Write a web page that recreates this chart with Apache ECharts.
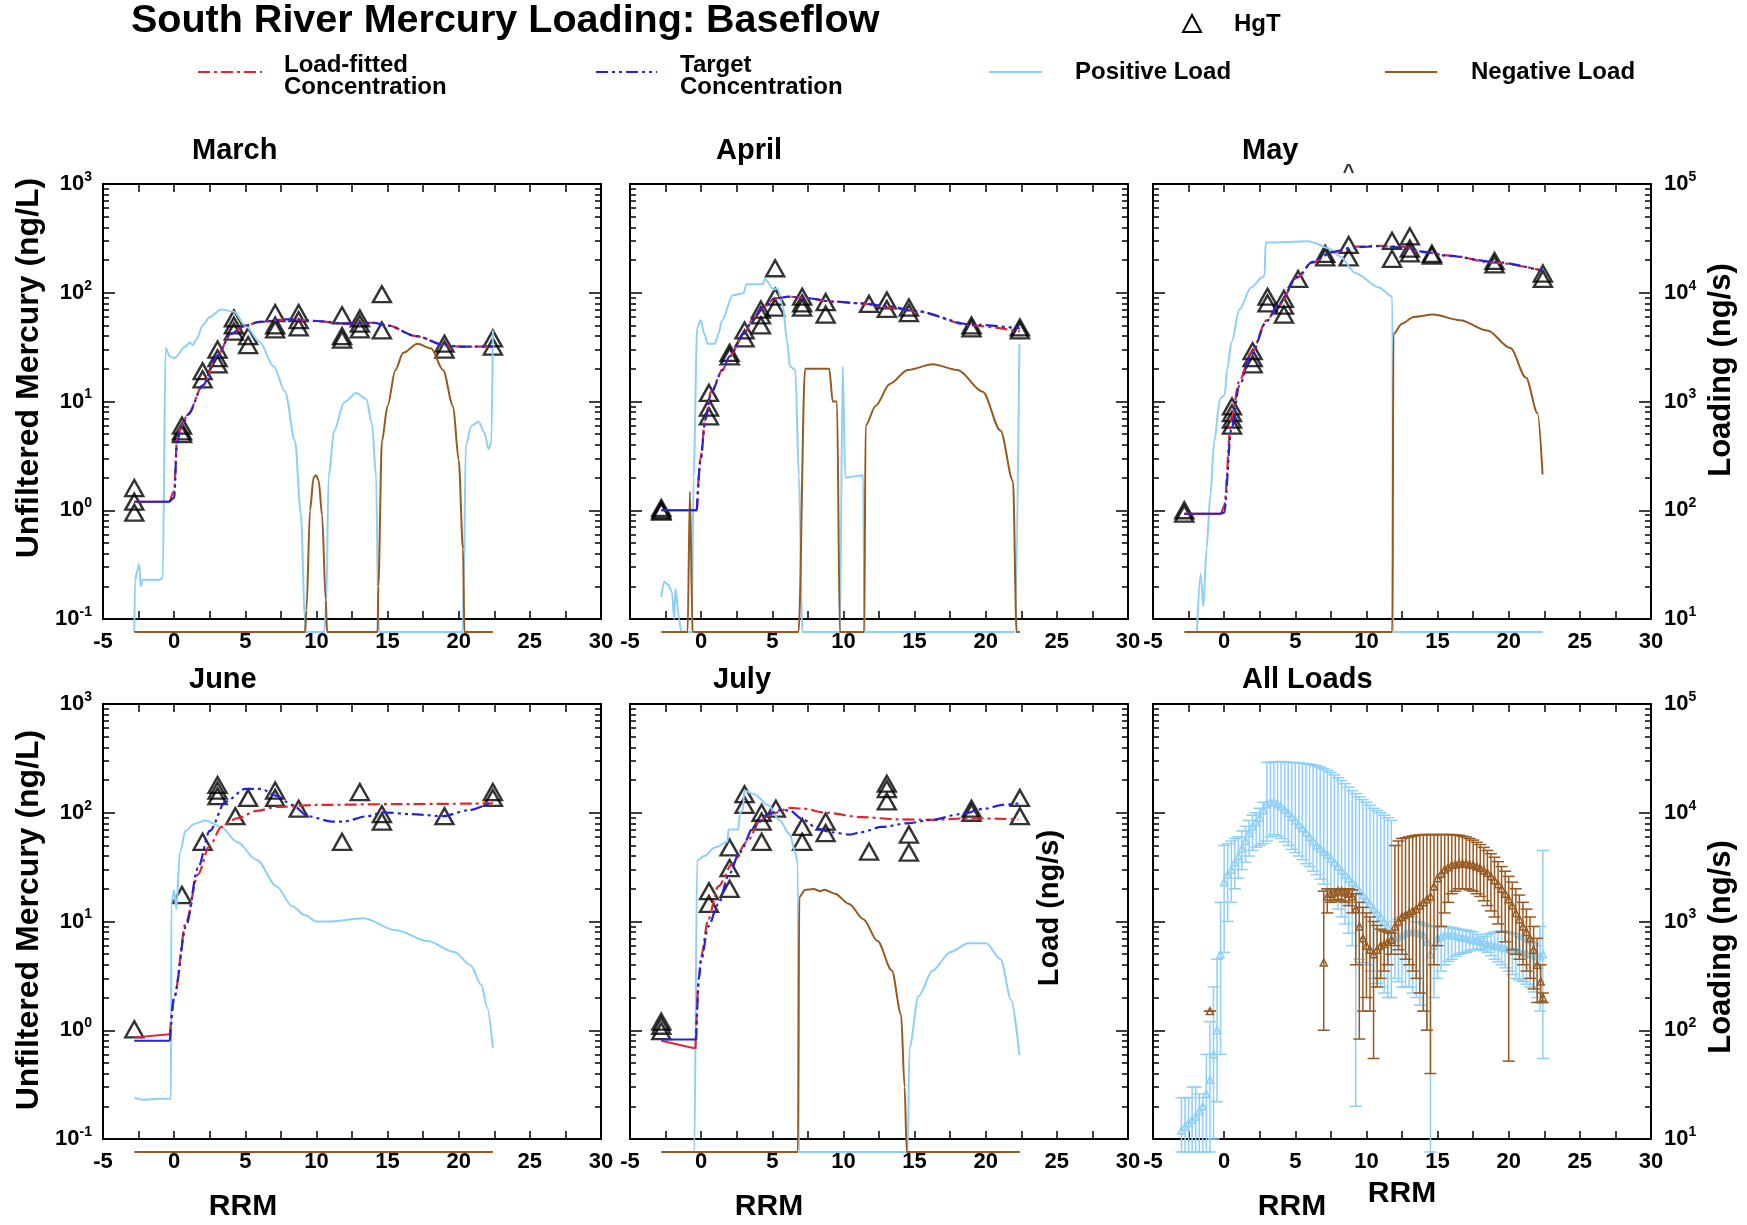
<!DOCTYPE html>
<html>
<head>
<meta charset="utf-8">
<title>South River Mercury Loading: Baseflow</title>
<script src="https://cdn.jsdelivr.net/npm/echarts@6/dist/echarts.min.js"></script>
<style>
  html, body { margin: 0; padding: 0; background: #fff; }
  #chart { width: 1747px; height: 1225px; }
</style>
</head>
<body>
<div id="chart"></div>
<script>
// ---- data ---------------------------------------------------------------
// HgT samples: [RRM, ng/L]; curves: [RRM, ng/L]; loads: [RRM, ng/s] (0 = no load)

const marchHgT = [[-2.8,1.6],[-2.8,1.2],[-2.8,0.95],[0.55,6.0],[0.55,5.3],[0.55,5.0],[2.0,19],[2.0,16],
  [3.05,30],[3.05,25],[3.05,22],[4.2,58],[4.2,50],[4.2,44],[5.2,40],[5.2,33],[7.1,65],[7.1,50],[7.1,46],
  [8.75,65],[8.75,56],[8.75,48],[11.8,62],[11.8,40],[11.8,37],[13.05,58],[13.05,52],[13.05,46],
  [14.6,97],[14.6,45],[19.0,34],[19.0,30],[22.4,38],[22.4,32]];
const marchFitted = [[-2.8,1.2],[-0.3,1.2],[0,1.5],[0.2,4.5],[0.5,6],[1,7.8],[2,14],[3,26],[4,42],[5,50],
  [6,54],[8,57],[10,55],[12,52],[14,53],[15,50],[17,40],[19,33],[20,32],[22.4,32]];
const marchTarget = [[-2.8,1.2],[-0.3,1.2],[0,1.3],[0.2,4.2],[0.5,5.8],[1,7.6],[2,14],[3,26],[4,42],[5,50],
  [6,54],[8,57],[10,55],[12,52],[14,53],[15,50],[17,40],[19,33],[20,32],[22.4,32]];
const marchPositive = [[-2.8,0],[-2.75,22],[-2.6,28],[-2.45,32],[-2.35,20],[-2.2,23],[-1.0,23],[-0.8,24],
  [-0.6,3100],[-0.3,2600],[0,2500],[0.8,3200],[1.1,3500],[1.3,3300],[1.6,3800],[2.0,5000],[2.5,6000],
  [3.3,7000],[4.2,6700],[5,5000],[6,3550],[7,2100],[7.8,1230],[8.5,430],[8.9,93],[9.2,10],[9.25,0],
  [10.55,0],[10.7,15],[10.85,200],[11.25,540],[11.95,980],[12.8,1200],[13.5,1050],[13.9,630],[14.2,200],
  [14.35,10],[14.4,0],[20.3,0],[20.35,20],[20.5,400],[20.9,600],[21.4,650],[21.8,520],[22.1,365],
  [22.3,430],[22.4,4500]];
const marchNegative = [[-2.8,0],[9.2,0],[9.3,12],[9.55,100],[9.8,200],[9.97,210],[10.15,190],[10.4,90],
  [10.65,15],[10.75,0],[14.3,0],[14.35,20],[14.6,430],[15,910],[15.55,1950],[16.1,2800],[17.1,3400],
  [18.05,3080],[18.9,1950],[19.6,910],[20,290],[20.3,44],[20.4,0],[22.4,0]];

const aprilHgT = [[-2.8,1.05],[-2.8,1.0],[-2.8,0.97],[0.55,12],[0.55,8.8],[0.55,7.3],[2.0,28],[2.0,26],
  [3.05,45],[3.05,38],[4.2,70],[4.2,62],[4.2,50],[5.2,168],[5.2,92],[5.2,73],[7.1,92],[7.1,80],[7.1,73],
  [8.75,82],[8.75,63],[11.8,79],[13.05,85],[13.05,71],[14.6,73],[14.6,65],[19.0,50],[19.0,47],
  [22.4,48],[22.4,45]];
const aprilFitted = [[-2.8,1.0],[-0.3,1.0],[-0.05,3.0],[0.3,7],[0.7,12.3],[1.5,19.5],[2,26],[3,42],
  [3.7,59],[4.5,76],[5.2,89],[6.2,92],[7.5,89],[9.2,83],[11.2,80],[13.2,73],[15,68],[19,50],[22.4,44]];
const aprilTarget = [[-2.8,1.0],[-0.3,1.0],[-0.05,2.8],[0.3,6.8],[0.7,12],[1.5,19.5],[2,26],[3,42],
  [3.7,59],[4.5,76],[5.2,89],[6.2,92],[7.5,89],[9.2,83],[11.2,80],[13.2,75],[15,68],[19,51],[22.4,47]];
const aprilPositive = [[-2.8,16],[-2.6,22],[-2.3,20.6],[-2.05,17.6],[-1.9,10],[-1.8,19],[-1.55,10],
  [-1.4,0],[-0.66,0],[-0.53,200],[-0.28,4800],[-0.03,5600],[0.22,4200],[0.47,3400],[0.97,3400],
  [1.22,4200],[1.47,5600],[2.23,9500],[2.98,9900],[3.18,12000],[4.36,12000],[4.48,13400],[5.11,10700],
  [5.36,11000],[5.74,7600],[6.04,3550],[6.24,2100],[6.62,1950],[6.87,200],[7.12,0],[9.75,0],
  [9.95,2100],[10.13,200],[11.38,210],[11.5,0],[22.05,0],[22.37,3400]];
const aprilNegative = [[-2.8,0],[-0.95,0],[-0.79,148],[-0.6,0],[6.85,0],[7.3,2000],[9.0,2000],
  [9.25,1000],[9.55,1000],[9.75,0],[11.46,0],[11.56,600],[12.26,910],[13.26,1450],[14.52,1950],
  [16.27,2200],[18.03,1950],[19.79,1230],[21.04,540],[21.92,185],[22.17,0],[22.4,0]];

const mayHgT = [[-2.8,1.0],[-2.8,0.93],[0.55,9],[0.55,7.8],[0.55,6.8],[0.55,6.0],[2.0,29],[2.0,25],[2.0,22],
  [3.05,92],[3.05,80],[4.2,88],[4.2,76],[4.2,63],[5.2,134],[7.1,228],[7.1,211],[8.75,275],[8.75,211],
  [11.8,300],[11.8,205],[13.05,330],[13.05,255],[13.05,230],[14.6,228],[14.6,220],[19.0,196],[19.0,182],
  [22.4,150],[22.4,134]];
const mayOffScale = [[8.75,1000]]; // sample above 1000 ng/L, shown as ^
const mayFitted = [[-2.8,0.93],[-0.2,0.93],[0,1.1],[0.5,6.8],[1.07,15.5],[1.9,28],[3,56],[3.8,76],
  [5.15,138],[6.2,189],[7.6,235],[9.2,265],[10.9,270],[12.5,265],[14.1,235],[15.8,220],[19,189],[22.4,160]];
const mayTarget = [[-2.8,0.93],[-0.2,0.93],[0,0.95],[0.5,5.5],[1.07,14],[1.9,27],[3,55],[3.8,78],
  [5.15,140],[6.2,192],[7.6,238],[9.2,262],[10.9,268],[12.5,262],[14.1,238],[15.8,218],[19,192],[22.4,158]];
const mayPositive = [[-1.92,0],[-1.65,26],[-1.46,13],[-1.24,44],[-0.97,138],[-0.7,430],[-0.29,1060],
  [0.04,1150],[0.2,1950],[0.53,3550],[1.07,7000],[1.89,11200],[2.7,13900],[2.84,14500],[2.92,29000],
  [5.97,29700],[6.24,29000],[7.33,25600],[8.15,21600],[9.24,15100],[10.87,11200],[11.82,9200],
  [11.88,0],[22.4,0]];
const mayNegative = [[-2.8,0],[11.82,0],[11.9,4200],[12.5,5200],[13.32,6000],[14.68,6300],[16.58,5600],
  [18.49,4500],[20.12,3100],[21.21,1660],[22.03,780],[22.38,213]];

const juneHgT = [[-2.8,1.02],[0.55,17.5],[2.0,54],[3.05,180],[3.05,160],[3.05,142],[4.3,93],[5.2,137],
  [7.1,160],[7.1,137],[8.75,109],[11.8,54],[13.05,155],[14.6,97],[14.6,83],[19.0,93],[22.4,155],[22.4,137]];
const juneFitted = [[-2.8,0.86],[-0.3,0.92],[0,2.0],[0.83,9.8],[1.67,27],[2.5,50],[3.33,74],[4.44,89],
  [5.8,104],[7.2,113],[10,118],[15.6,120],[22.4,122]];
const juneTarget = [[-2.8,0.8],[-0.3,0.8],[0,2.0],[0.83,9],[1.67,31],[2.5,68],[3.6,126],[5.0,166],
  [6.1,166],[7.2,143],[8.3,118],[9.4,93],[11.1,83],[11.9,83],[13.6,93],[14.7,101],[16.7,97],[18.9,93],
  [20.6,105],[22.4,127]];
const junePositive = [[-2.8,24],[-2.2,23],[-1.1,23.5],[-0.22,23.5],[-0.2,1450],[0,1950],[0.15,1300],
  [0.4,4300],[0.8,6800],[1.4,7900],[2.2,8500],[3.3,7400],[4.4,5400],[5.8,3700],[7.2,2100],[8.3,1380],
  [9.2,1140],[10,1000],[10.8,1000],[13.3,1070],[15.6,830],[17.8,660],[19.7,525],[20.8,400],[21.6,260],
  [22.0,162],[22.4,69]];
const juneNegative = [[-2.8,0],[22.4,0]];

const julyHgT = [[-2.8,1.2],[-2.8,1.1],[-2.8,0.98],[0.55,19],[0.55,14.5],[2.0,48],[2.0,31],[2.0,20],
  [3.05,148],[3.05,118],[4.25,100],[4.25,83],[4.25,54],[5.25,109],[7.1,74],[7.1,54],[8.75,83],[8.75,65],
  [11.8,44],[13.05,185],[13.05,165],[13.05,127],[14.6,63],[14.6,43],[19.0,109],[19.0,100],
  [22.4,137],[22.4,93]];
const julyFitted = [[-2.8,0.8],[-0.4,0.68],[-0.16,3.0],[0,4.8],[0.5,10.5],[1.2,21],[2.2,34],[3.2,54],
  [4.2,86],[5.2,100],[6.2,111],[7.2,109],[8.75,100],[11.3,91],[13.8,87],[16.3,86],[18.8,89],[22.3,87]];
const julyTarget = [[-2.8,0.82],[-0.35,0.82],[-0.16,3.0],[0,4.4],[0.5,9],[1.2,14.4],[1.95,27],[2.7,43],
  [3.7,74],[4.7,97],[5.45,105],[6.2,105],[7.2,86],[8.2,71],[9.2,66],[10.45,63],[11.2,66],[12.7,74],
  [14.5,80],[16.2,86],[18.2,97],[19.95,109],[21.2,118],[22.3,122]];
const julyPositive = [[-2.8,0],[-0.48,0],[-0.28,3650],[0.22,4000],[0.97,4800],[1.85,5400],[1.92,7000],
  [2.6,7000],[2.73,10000],[2.93,10500],[3.03,16000],[3.73,14800],[4.73,11700],[5.49,8600],[6.24,6300],
  [6.62,4300],[6.79,3400],[6.87,0],[14.52,0],[14.64,69],[15.27,205],[16.27,355],[17.53,525],
  [18.78,630],[20.04,630],[21.04,450],[21.79,190],[22.37,59]];
const julyNegative = [[-2.8,0],[6.8,0],[6.9,1680],[7.3,1950],[7.9,1990],[8.4,1900],[8.65,1960],
  [9.4,1800],[10.4,1450],[11.4,1050],[12.4,660],[13.4,355],[14.05,140],[14.3,30],[14.45,0],[22.4,0]];

// All loads: [RRM, low, middle, high] in ng/s (low 0 = reaches zero)
const allPositive = [
  [-3.0,0,12,24],[-2.75,0,13,24],[-2.5,0,14,24],[-2.25,0,15,30],[-2.0,0,16,30],[-1.75,0,18,26],
  [-1.5,0,20,24],[-1.25,0,26,60],[-1.0,0,35,120],[-0.75,10,60,250],[-0.5,22,100,450],[-0.25,60,500,1500],
  [0.0,520,2300,5000],[0.25,1000,2700,5200],[0.5,1500,3000,5500],[0.75,2000,3500,5800],[1.0,2500,4000,6000],
  [1.25,3000,4700,6800],[1.5,3500,5500,7500],[1.75,4000,6500,8500],[2.0,4500,7500,9500],
  [2.25,4800,8200,10000],[2.5,5000,9000,11000],[2.75,5200,10500,12500],[3.0,5500,12000,29000],
  [3.25,6000,12500,29000],[3.5,6300,12500,29500],[3.75,6100,12000,29500],[4.0,5800,11500,29500],
  [4.25,5400,10700,29500],[4.5,5000,10000,29000],[4.75,4600,9200,29000],[5.0,4300,8500,29000],
  [5.25,4000,7800,28800],[5.5,3700,7200,28500],[5.75,3400,6600,28200],[6.0,3200,6000,28000],
  [6.25,2900,5500,27500],[6.5,2700,5000,27000],[6.75,2450,4700,26300],[7.0,2200,4400,25500],
  [7.25,1950,4100,24500],[7.5,1700,3800,23500],[7.75,1500,3500,22300],[8.0,1300,3200,21000],
  [8.25,1100,2950,19800],[8.5,950,2700,18500],[8.75,780,2500,17200],[9.0,600,2300,16000],
  [9.25,20,2100,15000],[9.5,450,1900,14000],[9.75,420,1750,13200],[10.0,400,1600,12500],
  [10.25,350,1450,11700],[10.5,300,1300,11000],[10.75,270,1200,10500],[11.0,250,1100,10000],
  [11.25,220,1000,9500],[11.5,200,900,9000],[11.75,200,800,8500],[12.0,300,700,1000],
  [12.25,280,720,1050],[12.5,250,750,1100],[12.75,250,780,1150],[13.0,250,800,1200],[13.25,220,800,1100],
  [13.5,200,800,1000],[13.75,170,780,980],[14.0,150,750,950],[14.25,100,650,920],[14.5,0,500,900],
  [14.75,200,600,900],[15.0,300,700,900],[15.25,350,720,900],[15.5,400,750,900],[15.75,430,750,890],
  [16.0,450,750,880],[16.25,480,740,865],[16.5,500,720,850],[16.75,510,710,840],[17.0,520,700,830],
  [17.25,535,690,815],[17.5,550,680,800],[17.75,555,665,760],[18.0,560,650,700],[18.25,540,635,730],
  [18.5,520,620,760],[18.75,485,610,780],[19.0,450,600,800],[19.25,425,590,810],[19.5,400,580,820],
  [19.75,375,570,810],[20.0,350,560,800],[20.25,325,550,780],[20.5,300,540,760],[20.75,290,530,730],
  [21.0,280,520,700],[21.25,265,510,675],[21.5,250,500,650],[21.75,225,490,625],[22.0,200,480,600],
  [22.2,150,480,900],[22.4,55,500,4500]];
const allNegative = [
  [-1.0,150,150,150],[7.0,100,420,1900],[7.25,1200,1700,2000],[7.5,1500,1800,2000],[7.75,1550,1850,2000],
  [8.0,1600,1900,2000],[8.25,1550,1900,2000],[8.5,1500,1850,2000],[8.75,1400,1800,2000],
  [9.0,1200,1700,1950],[9.25,400,1300,1800],[9.5,83,900,1500],[9.75,150,700,1350],[10.0,200,600,1200],
  [10.25,150,550,1100],[10.5,55,500,1000],[10.75,250,550,920],[11.0,300,600,850],[11.25,350,620,820],
  [11.5,400,650,800],[11.75,500,680,780],[12.0,600,900,5000],[12.25,550,1000,5500],[12.5,500,1100,5800],
  [12.75,450,1150,5900],[13.0,400,1200,6000],[13.25,350,1250,6100],[13.5,300,1300,6200],
  [13.75,220,1400,6250],[14.0,150,1500,6300],[14.25,100,1600,6300],[14.5,40,1700,6300],
  [14.75,400,2100,6300],[15.0,600,2500,6300],[15.25,900,2750,6300],[15.5,1200,3000,6300],
  [15.75,1500,3150,6300],[16.0,1800,3300,6300],[16.25,1900,3350,6250],[16.5,2000,3400,6200],
  [16.75,2000,3400,6100],[17.0,2000,3400,6000],[17.25,1950,3350,5800],[17.5,1900,3300,5600],
  [17.75,1800,3200,5350],[18.0,1700,3100,5100],[18.25,1550,2950,4800],[18.5,1400,2800,4500],
  [18.75,1250,2600,4200],[19.0,1100,2400,3900],[19.25,950,2200,3550],[19.5,800,2000,3200],
  [19.75,650,1800,2900],[20.0,52,1600,2600],[20.25,550,1400,2300],[20.5,500,1200,2000],
  [20.75,450,1050,1750],[21.0,400,900,1500],[21.25,350,800,1300],[21.5,300,700,1100],
  [21.75,240,550,900],[22.0,180,400,700],[22.25,180,280,400],[22.4,180,200,220]];

const concDecades = [0.1, 1, 10, 100, 1000];
const loadDecades = [10, 100, 1000, 10000, 100000];

// ---- styling ------------------------------------------------------------
const FONT = '"Liberation Sans", Arial, Helvetica, sans-serif';
const RED = '#e0282c';
const BLUE = '#2323dc';
const SKY = '#8ecff7';
const BROWN = '#985920';
const FITTED_DASH = [12, 4, 3, 4];
const TARGET_DASH = [12, 4, 3, 4, 3, 4];
const ZERO_LOAD = 7.6; // zero loads sit just under the frame, as in the original

const GRID_LEFT = [103, 630, 1153];
const GRID_TOP = [184, 704];
const GRID_W = 498;
const GRID_H = 435;

const panels = [
  {hgt: marchHgT, fitted: marchFitted, target: marchTarget, pos: marchPositive, neg: marchNegative},
  {hgt: aprilHgT, fitted: aprilFitted, target: aprilTarget, pos: aprilPositive, neg: aprilNegative},
  {hgt: mayHgT, fitted: mayFitted, target: mayTarget, pos: mayPositive, neg: mayNegative},
  {hgt: juneHgT, fitted: juneFitted, target: juneTarget, pos: junePositive, neg: juneNegative},
  {hgt: julyHgT, fitted: julyFitted, target: julyTarget, pos: julyPositive, neg: julyNegative},
  null // All Loads
];

function minorsOf(decades) {
  const out = [];
  for (let i = 0; i < decades.length - 1; i++) {
    for (let m = 2; m <= 9; m++) out.push(decades[i] * m);
  }
  return out;
}

// keep end ticks just inside the axis extent (float rounding in log scale)
function insideEnds(vals) {
  return vals.map((v, i) => i === 0 ? v * 1.000001 : (i === vals.length - 1 ? v * 0.999999 : v));
}

function powerLabel(v) {
  return '{b|10}{e|' + Math.round(Math.log10(v)) + '}';
}

const powerRich = {
  b: {fontFamily: FONT, fontWeight: 'bold', fontSize: 22, color: '#000', lineHeight: 28},
  e: {fontFamily: FONT, fontWeight: 'bold', fontSize: 14, color: '#000', lineHeight: 15, verticalAlign: 'top'}
};

function loadPoints(arr) {
  return arr.map(([x, v]) => [x, v > 0 ? v : ZERO_LOAD]);
}

const grids = [], xAxes = [], yAxes = [], series = [];

for (let g = 0; g < 6; g++) {
  const col = g % 3, row = Math.floor(g / 3);
  grids.push({left: GRID_LEFT[col], top: GRID_TOP[row], width: GRID_W, height: GRID_H});

  const xBase = {
    gridIndex: g, type: 'value', min: -5, max: 30, interval: 2.5,
    axisLine: {onZero: false, lineStyle: {color: '#000', width: 2}},
    axisTick: {inside: true, length: 8, lineStyle: {color: '#000', width: 1.5}},
    splitLine: {show: false}
  };
  xAxes.push(Object.assign({}, xBase, {
    position: 'bottom',
    axisLabel: {
      margin: 12, color: '#000', fontFamily: FONT, fontWeight: 'bold', fontSize: 22,
      formatter: v => (Math.abs(v % 5) < 1e-9 ? String(v) : '')
    }
  }));
  xAxes.push(Object.assign({}, xBase, {position: 'top', axisLabel: {show: false}}));

  const sides = [
    {pos: 'left', min: 0.1, max: 1000, decades: concDecades, labels: col === 0, margin: 11},
    {pos: 'right', min: 10, max: 100000, decades: loadDecades, labels: col === 2, margin: 13}
  ];
  sides.forEach(s => {
    yAxes.push({
      gridIndex: g, type: 'log', logBase: 10, position: s.pos, min: s.min, max: s.max,
      axisLine: {onZero: false, lineStyle: {color: '#000', width: 2}},
      axisTick: {inside: true, length: 6, customValues: minorsOf(s.decades), lineStyle: {color: '#000', width: 1.5}},
      splitLine: {show: false},
      axisLabel: {
        show: s.labels, customValues: insideEnds(s.decades), margin: s.margin,
        formatter: powerLabel, rich: powerRich
      }
    });
    yAxes.push({
      gridIndex: g, type: 'log', logBase: 10, position: s.pos, offset: 0, min: s.min, max: s.max,
      axisLine: {show: false, onZero: false},
      axisTick: {inside: true, length: 12, customValues: insideEnds(s.decades), lineStyle: {color: '#000', width: 1.5}},
      axisLabel: {show: false},
      splitLine: {show: false}
    });
  });

  const xi = 2 * g, concY = 4 * g, loadY = 4 * g + 2;
  const p = panels[g];
  if (p) {
    series.push({
      type: 'line', xAxisIndex: xi, yAxisIndex: loadY, data: loadPoints(p.pos),
      showSymbol: false, clip: false, smooth: 0.3, smoothMonotone: 'x',
      lineStyle: {color: SKY, width: 2}
    });
    series.push({
      type: 'line', xAxisIndex: xi, yAxisIndex: loadY, data: loadPoints(p.neg),
      showSymbol: false, clip: false, smooth: 0.3, smoothMonotone: 'x',
      lineStyle: {color: BROWN, width: 2}
    });
    [[p.fitted, RED, FITTED_DASH], [p.target, BLUE, TARGET_DASH]].forEach(([d, c, dash]) => {
      series.push({
        type: 'line', xAxisIndex: xi, yAxisIndex: concY, data: d.slice(0, 2),
        showSymbol: false, lineStyle: {color: c, width: 2}
      });
      series.push({
        type: 'line', xAxisIndex: xi, yAxisIndex: concY, data: d.slice(1),
        showSymbol: false, smooth: 0.3, smoothMonotone: 'x',
        lineStyle: {color: c, width: 2.2, type: dash}
      });
    });
    series.push({
      type: 'scatter', xAxisIndex: xi, yAxisIndex: concY, data: p.hgt,
      symbol: 'triangle', symbolSize: [18, 16],
      itemStyle: {color: 'rgba(0,0,0,0)', borderColor: '#000', borderWidth: 2.4}
    });
    if (g === 2) {
      series.push({
        type: 'scatter', xAxisIndex: xi, yAxisIndex: concY, data: mayOffScale,
        symbolSize: 0, clip: false,
        label: {show: true, position: 'top', distance: 2, formatter: '^',
          fontFamily: FONT, fontWeight: 'bold', fontSize: 20, color: '#000'}
      });
    }
  } else {
    [[allPositive, SKY], [allNegative, BROWN]].forEach(([d, c]) => {
      series.push({
        type: 'custom', xAxisIndex: xi, yAxisIndex: loadY, data: d, clip: false,
        encode: {x: 0, y: [2, 3]},
        renderItem: function (params, api) {
          const x = api.value(0);
          const lo = api.value(1) > 0 ? api.value(1) : ZERO_LOAD;
          const pLo = api.coord([x, lo]);
          const pMid = api.coord([x, api.value(2)]);
          const pHi = api.coord([x, api.value(3)]);
          const st = () => ({stroke: c, lineWidth: 1.5, fill: null});
          const cap = 6, t = 3.5;
          return {
            type: 'group',
            children: [
              {type: 'line', shape: {x1: pLo[0], y1: pLo[1], x2: pHi[0], y2: pHi[1]}, style: st()},
              {type: 'line', shape: {x1: pLo[0] - cap, y1: pLo[1], x2: pLo[0] + cap, y2: pLo[1]}, style: st()},
              {type: 'line', shape: {x1: pHi[0] - cap, y1: pHi[1], x2: pHi[0] + cap, y2: pHi[1]}, style: st()},
              {type: 'polygon', shape: {points: [[pMid[0], pMid[1] - t], [pMid[0] - t, pMid[1] + t], [pMid[0] + t, pMid[1] + t]]}, style: st()}
            ]
          };
        }
      });
    });
  }
}

// ---- titles, legend and free labels ------------------------------------
function txt(text, x, y, size, align, extra) {
  return Object.assign({
    type: 'text', x: x, y: y, silent: true,
    style: {text: text, fill: '#000', font: 'bold ' + size + 'px ' + FONT,
      textAlign: align || 'left', textVerticalAlign: 'middle'}
  }, extra || {});
}
function vtxt(text, x, y, size) {
  return txt(text, x, y, size, 'center', {rotation: Math.PI / 2});
}
function legendLine(x1, x2, y, color, dash) {
  return {type: 'line', silent: true, shape: {x1: x1, y1: y, x2: x2, y2: y},
    style: {stroke: color, lineWidth: 2, lineDash: dash || null}};
}

const graphics = [
  txt('South River Mercury Loading: Baseflow', 131, 21, 39.5),
  {type: 'polygon', silent: true, shape: {points: [[1192, 15], [1183, 32], [1201, 32]]},
    style: {fill: null, stroke: '#000', lineWidth: 2}},
  txt('HgT', 1234, 24, 24),
  legendLine(198, 262, 72, RED, FITTED_DASH),
  {type: 'text', x: 284, y: 76, silent: true, style: {text: 'Load-fitted\nConcentration', fill: '#000',
    font: 'bold 24px ' + FONT, lineHeight: 22, textAlign: 'left', textVerticalAlign: 'middle'}},
  legendLine(596, 657, 72, BLUE, TARGET_DASH),
  {type: 'text', x: 680, y: 76, silent: true, style: {text: 'Target\nConcentration', fill: '#000',
    font: 'bold 24px ' + FONT, lineHeight: 22, textAlign: 'left', textVerticalAlign: 'middle'}},
  legendLine(989, 1042, 72, SKY),
  txt('Positive Load', 1075, 72, 24),
  legendLine(1385, 1437, 72, BROWN),
  txt('Negative Load', 1471, 72, 24),

  txt('March', 192, 151, 29), txt('April', 716, 151, 29), txt('May', 1242, 151, 29),
  txt('June', 189, 680, 29), txt('July', 713, 680, 29), txt('All Loads', 1242, 680, 29),

  vtxt('Unfiltered Mercury (ng/L)', 29, 368, 32),
  vtxt('Unfiltered Mercury (ng/L)', 29, 920, 32),
  vtxt('Loading (ng/s)', 1721, 370, 31),
  vtxt('Loading (ng/s)', 1721, 947, 31),
  vtxt('Load (ng/s)', 1050, 908, 29),

  txt('RRM', 243, 1207, 30, 'center'),
  txt('RRM', 769, 1207, 30, 'center'),
  txt('RRM', 1292, 1207, 30, 'center'),
  txt('RRM', 1402, 1194, 30, 'center')
];

const chart = echarts.init(document.getElementById('chart'), null, {renderer: 'canvas'});
chart.setOption({
  animation: false,
  backgroundColor: '#fff',
  grid: grids,
  xAxis: xAxes,
  yAxis: yAxes,
  series: series,
  graphic: graphics
});
</script>
</body>
</html>
